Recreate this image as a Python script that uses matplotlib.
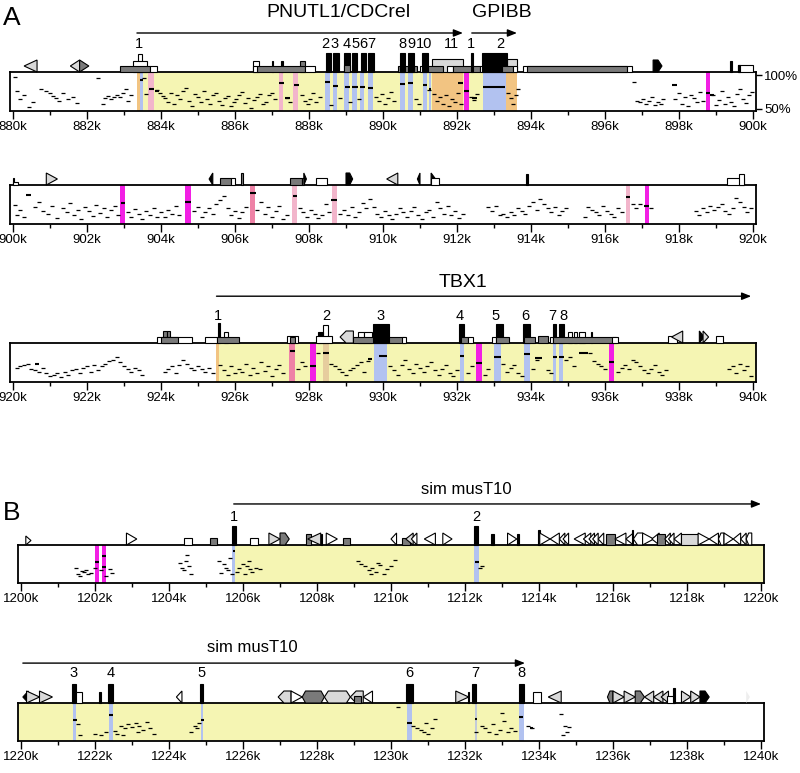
import matplotlib.pyplot as plt
import matplotlib.transforms as mtransforms
from matplotlib.patches import Polygon

plt.rcParams['font.family'] = ['Liberation Sans', 'DejaVu Sans']

# ---------------- data ----------------
# row start positions (kb)
A1_START, A2_START, A3_START = 880, 900, 920
B1_START, B2_START = 1200, 1220

# shaded strips (kind, start kb, end kb)
A1_SHADE = [('yellow', 883.35, 893.62), ('orange', 883.35, 883.42), ('blue', 883.42, 883.52),
            ('pink', 883.65, 883.8), ('pink', 887.18, 887.3), ('pink', 887.57, 887.69),
            ('blue', 888.42, 888.56), ('blue', 888.65, 888.76), ('blue', 888.95, 889.08),
            ('blue', 889.16, 889.3), ('blue', 889.38, 889.5), ('blue', 889.6, 889.73),
            ('blue', 890.46, 890.6), ('blue', 890.68, 890.82), ('blue', 891.08, 891.2),
            ('blue', 891.25, 891.3), ('orange', 891.32, 892.16), ('magenta', 892.2, 892.32),
            ('blue', 892.7, 893.33), ('orange', 893.33, 893.62), ('magenta', 898.73, 898.85)]
A2_SHADE = [('magenta', 902.9, 903.02), ('magenta', 904.65, 904.8), ('rose', 906.4, 906.55),
            ('pink', 907.55, 907.68), ('pink', 908.62, 908.75), ('pink', 916.57, 916.68),
            ('magenta', 917.08, 917.19)]
A3_SHADE = [('yellow', 925.5, 940.1), ('orange', 925.5, 925.56), ('rose', 927.46, 927.62),
            ('magenta', 928.03, 928.2), ('tan', 928.38, 928.54), ('blue', 929.76, 930.1),
            ('blue', 932.08, 932.19), ('magenta', 932.5, 932.68), ('blue', 933.0, 933.2),
            ('blue', 933.8, 933.97), ('blue', 934.6, 934.68), ('blue', 934.76, 934.86),
            ('magenta', 936.1, 936.25)]
B1_SHADE = [('yellow', 1205.75, 1220.1), ('blue', 1205.7, 1205.78), ('blue', 1212.25, 1212.37),
            ('magenta', 1202.0, 1202.1), ('magenta', 1202.18, 1202.3)]
B2_SHADE = [('yellow', 1219.9, 1233.6), ('blue', 1221.4, 1221.5), ('blue', 1222.37, 1222.48),
            ('blue', 1224.86, 1224.92), ('blue', 1230.43, 1230.56), ('grayblue', 1232.26, 1232.32),
            ('blue', 1233.45, 1233.6)]

# percent identity dots (kb, %)
A1_DOTS = [(880.05, 97), (880.12, 76), (880.18, 64), (880.3, 71), (880.42, 53), (880.55, 60),
           (880.75, 79), (880.88, 77), (881.0, 74), (881.08, 69), (881.15, 66), (881.25, 62),
           (881.35, 73), (881.5, 64), (881.62, 68), (881.72, 59), (882.3, 96), (882.42, 58),
           (882.5, 66), (882.58, 69), (882.66, 65), (882.74, 68), (882.82, 71), (882.9, 67),
           (882.98, 74), (883.06, 79), (883.12, 62), (883.2, 70),
           (883.55, 95), (883.6, 72), (883.9, 78), (883.98, 73), (884.05, 69), (884.12, 66),
           (884.2, 60), (884.28, 74), (884.36, 57), (884.44, 70), (884.52, 64), (884.6, 76),
           (884.68, 81), (884.76, 62), (884.84, 55), (884.92, 72), (885.0, 68), (885.08, 60),
           (885.16, 77), (885.24, 65), (885.32, 58), (885.4, 70), (885.48, 73), (885.56, 62),
           (885.64, 56), (885.72, 66), (885.8, 69), (885.88, 54), (885.96, 61), (886.04, 64),
           (886.12, 71), (886.2, 75), (886.28, 59), (886.36, 66), (886.44, 52), (886.52, 63),
           (886.6, 68), (886.68, 72), (886.76, 58), (886.84, 61), (886.92, 70), (887.0, 74),
           (887.08, 64), (887.4, 66), (887.48, 60), (887.8, 70), (887.88, 62), (887.96, 57),
           (888.04, 65), (888.12, 73), (888.2, 60), (888.3, 68), (888.6, 56), (888.85, 66),
           (889.1, 60), (889.35, 64), (889.82, 68), (889.9, 62), (889.98, 72), (890.06, 58),
           (890.14, 66), (890.22, 75), (890.3, 62), (890.9, 64), (890.96, 57), (891.24, 78),
           (891.38, 72), (891.46, 62), (891.54, 68), (891.62, 58), (891.7, 70), (891.78, 55),
           (891.86, 65), (891.94, 60), (892.02, 74), (892.1, 57), (892.38, 68), (892.46, 63),
           (892.54, 72), (893.38, 74), (893.46, 66), (893.52, 58), (893.6, 70), (893.66, 80),
           (896.78, 90), (896.86, 62), (896.94, 60), (897.02, 64), (897.1, 58), (897.18, 62),
           (897.26, 67), (897.34, 56), (897.42, 61), (897.5, 58), (897.58, 65), (897.9, 64),
           (898.0, 73), (898.08, 58), (898.16, 68), (898.24, 55), (898.32, 71), (898.4, 66),
           (898.48, 60), (898.56, 75), (898.64, 62), (898.92, 70), (899.0, 56), (899.08, 63),
           (899.16, 77), (899.24, 58), (899.32, 67), (899.4, 61), (899.48, 55), (899.56, 72),
           (899.64, 80), (899.72, 65), (899.8, 59), (899.88, 70), (899.96, 75)]
A2_DOTS = [(900.05, 75), (900.12, 60), (900.2, 68), (900.3, 58), (900.6, 72), (900.7, 80),
           (900.8, 66), (900.95, 62), (901.05, 74), (901.2, 56), (901.35, 70), (901.45, 64),
           (901.55, 78), (901.65, 60), (901.75, 68), (901.85, 54), (901.95, 72), (902.05, 66),
           (902.15, 59), (902.25, 75), (902.35, 63), (902.45, 70), (902.55, 57), (902.65, 67),
           (902.75, 73), (902.85, 61), (903.1, 64), (903.2, 58), (903.3, 69), (903.4, 62),
           (903.5, 55), (903.6, 66), (903.7, 60), (903.8, 71), (903.9, 57), (904.0, 65),
           (904.1, 58), (904.2, 68), (904.3, 62), (904.4, 74), (904.5, 60), (904.9, 66),
           (905.0, 72), (905.1, 58), (905.2, 65), (905.3, 70), (905.4, 62), (905.5, 76),
           (905.6, 82), (905.7, 88), (905.8, 70), (905.9, 60), (906.0, 66), (906.1, 56),
           (906.2, 64), (906.3, 72), (906.6, 68), (906.7, 80), (906.8, 62), (906.9, 72),
           (907.0, 58), (907.1, 66), (907.2, 74), (907.3, 55), (907.4, 61), (907.75, 70),
           (907.85, 64), (907.95, 58), (908.05, 67), (908.15, 62), (908.25, 56), (908.35, 60),
           (908.45, 76), (908.55, 64), (908.85, 62), (908.95, 68), (909.05, 60), (909.15, 72),
           (909.25, 58), (909.35, 64), (909.45, 78), (909.55, 70), (909.65, 84), (909.75, 72),
           (909.85, 62), (909.95, 58), (910.05, 66), (910.15, 60), (910.25, 54), (910.35, 62),
           (910.45, 70), (910.55, 64), (910.65, 58), (910.75, 66), (910.85, 72), (910.95, 60),
           (911.05, 55), (911.15, 64), (911.25, 68), (911.35, 58), (911.45, 80), (911.55, 70),
           (911.65, 62), (911.75, 74), (911.85, 60), (911.95, 66), (912.05, 56), (912.15, 62),
           (912.85, 72), (912.95, 66), (913.05, 74), (913.15, 60), (913.25, 62), (913.35, 58),
           (913.45, 64), (913.55, 60), (913.65, 70), (913.75, 66), (913.85, 62), (913.95, 74),
           (914.05, 80), (914.15, 68), (914.25, 84), (914.35, 76), (914.45, 70), (914.55, 64),
           (914.65, 72), (914.75, 60), (914.85, 66), (914.95, 70), (915.45, 57), (915.55, 72),
           (915.65, 68), (915.75, 64), (915.85, 60), (915.95, 74), (916.05, 66), (916.15, 62),
           (916.25, 58), (916.35, 70), (916.45, 64), (916.75, 76), (916.85, 70), (916.95, 76),
           (917.25, 71), (918.45, 66), (918.55, 60), (918.65, 70), (918.75, 64), (918.85, 74),
           (918.95, 68), (919.05, 72), (919.15, 76), (919.25, 66), (919.35, 62), (919.45, 70),
           (919.55, 86), (919.65, 80), (919.75, 72), (919.85, 64), (919.95, 70)]
A3_DOTS = [(920.1, 68), (920.2, 70), (920.3, 72), (920.4, 74), (920.5, 66), (920.6, 64),
           (920.7, 62), (920.8, 68), (920.9, 60), (921.0, 56), (921.1, 58), (921.2, 60),
           (921.3, 55), (921.4, 62), (921.5, 58), (921.6, 64), (921.7, 66), (921.8, 60),
           (921.9, 68), (922.0, 70), (922.1, 62), (922.2, 72), (922.3, 65), (922.4, 70),
           (922.5, 74), (922.6, 78), (922.7, 80), (922.8, 84), (922.9, 76), (923.0, 70),
           (923.1, 66), (923.2, 62), (923.3, 68), (923.4, 64), (923.5, 58), (924.1, 62),
           (924.2, 66), (924.3, 70), (924.4, 60), (924.5, 72), (924.6, 80), (924.7, 74),
           (924.8, 68), (924.9, 64), (925.0, 70), (925.1, 66), (925.2, 62), (925.3, 68),
           (925.4, 60), (925.6, 72), (925.7, 64), (925.8, 58), (925.9, 70), (926.0, 60),
           (926.1, 66), (926.2, 62), (926.3, 74), (926.4, 58), (926.5, 67), (926.6, 60),
           (926.7, 76), (926.8, 63), (926.9, 70), (927.0, 56), (927.1, 66), (927.2, 72),
           (927.3, 61), (927.7, 66), (927.8, 76), (927.9, 70), (928.25, 90), (928.6, 74),
           (928.7, 70), (928.8, 66), (928.9, 62), (929.0, 58), (929.1, 64), (929.2, 68),
           (929.3, 72), (929.4, 76), (929.5, 62), (929.6, 78), (930.2, 70), (930.3, 64),
           (930.4, 58), (930.5, 72), (930.6, 80), (930.7, 66), (930.8, 60), (930.9, 74),
           (931.0, 68), (931.1, 62), (931.2, 70), (931.3, 76), (931.4, 64), (931.5, 58),
           (931.6, 66), (931.7, 72), (931.8, 60), (931.9, 56), (932.0, 64), (932.3, 60),
           (932.4, 70), (932.75, 58), (932.85, 66), (933.25, 74), (933.35, 62), (933.45, 68),
           (933.55, 72), (933.65, 60), (933.75, 56), (934.05, 66), (934.15, 80), (934.45, 64),
           (934.55, 60), (934.95, 80), (935.05, 84), (935.15, 70), (935.6, 90), (935.7, 78),
           (935.8, 74), (935.9, 70), (936.0, 66), (936.35, 62), (936.45, 68), (936.55, 72),
           (936.65, 66), (936.75, 80), (936.85, 76), (936.95, 70), (937.05, 64), (937.15, 60),
           (937.25, 66), (937.35, 72), (937.45, 62), (937.55, 58), (937.65, 64), (939.35, 66),
           (939.45, 70), (939.55, 60), (939.65, 74), (939.75, 64), (939.85, 70), (939.95, 56)]
B1_DOTS = [(1201.5, 70), (1201.55, 60), (1201.6, 58), (1201.65, 65), (1201.7, 64), (1201.75, 66),
           (1201.8, 60), (1201.9, 62), (1202.0, 70), (1202.15, 66), (1202.3, 58), (1202.4, 68),
           (1202.45, 62), (1204.3, 78), (1204.35, 70), (1204.4, 66), (1204.45, 80), (1204.5, 90),
           (1204.55, 72), (1204.6, 60), (1205.35, 80), (1205.4, 62), (1205.5, 75), (1205.55, 70),
           (1205.6, 66), (1205.65, 85), (1205.7, 60), (1205.85, 64), (1205.9, 70), (1206.0, 75),
           (1206.05, 60), (1206.1, 72), (1206.15, 80), (1206.2, 68), (1206.25, 64), (1206.35, 70),
           (1206.45, 68), (1209.1, 80), (1209.2, 76), (1209.3, 72), (1209.4, 66), (1209.45, 60),
           (1209.5, 70), (1209.6, 64), (1209.65, 78), (1209.7, 74), (1209.8, 60), (1209.9, 68),
           (1210.0, 72), (1210.1, 82), (1212.4, 70), (1212.45, 72)]
B2_DOTS = [(1221.55, 72), (1221.6, 56), (1222.0, 58), (1222.15, 56), (1222.3, 60), (1222.55, 62),
           (1222.6, 58), (1222.7, 70), (1222.75, 56), (1222.8, 66), (1222.9, 72), (1223.0, 68),
           (1223.1, 74), (1223.15, 60), (1223.2, 70), (1223.3, 64), (1223.4, 76), (1223.5, 66),
           (1223.6, 58), (1224.6, 60), (1224.7, 70), (1224.75, 66), (1224.8, 74), (1230.2, 98),
           (1230.6, 70), (1230.7, 66), (1230.8, 64), (1230.9, 60), (1230.95, 74), (1231.0, 58),
           (1231.1, 66), (1231.2, 80), (1232.3, 60), (1232.45, 70), (1232.55, 66), (1232.65, 60),
           (1232.75, 72), (1232.85, 58), (1232.95, 64), (1233.0, 90), (1233.05, 78), (1233.15, 60),
           (1233.25, 66), (1233.35, 62), (1233.7, 70), (1233.8, 66), (1234.6, 88), (1234.65, 56),
           (1234.7, 70), (1234.75, 60), (1234.8, 68)]

# longer identity segments (start kb, end kb, %)
A1_DASH = [(883.42, 883.52, 92), (883.68, 883.82, 79), (883.85, 883.95, 77), (887.2, 887.32, 89),
           (887.35, 887.5, 66), (887.6, 887.72, 86), (888.42, 888.56, 90), (888.66, 888.78, 84),
           (888.96, 889.1, 82), (889.16, 889.32, 83), (889.38, 889.52, 83), (889.6, 889.74, 81),
           (890.46, 890.6, 87), (890.68, 890.82, 89), (891.08, 891.2, 85), (891.24, 891.3, 80),
           (892.02, 892.16, 88), (892.2, 892.32, 77), (892.4, 892.55, 66), (892.7, 893.3, 82),
           (897.8, 897.95, 85), (898.72, 898.85, 74), (898.85, 898.95, 70)]
A2_DASH = [(900.35, 900.48, 90), (902.93, 903.02, 78), (904.66, 904.8, 79), (906.4, 906.56, 93),
           (907.56, 907.68, 88), (908.6, 908.75, 82), (916.56, 916.68, 87), (917.06, 917.2, 73)]
A3_DASH = [(920.6, 920.7, 73), (927.5, 927.62, 93), (928.04, 928.2, 71), (928.38, 928.55, 90),
           (929.6, 929.7, 81), (929.88, 930.12, 85), (932.08, 932.2, 85), (932.52, 932.68, 75),
           (933.0, 933.2, 84), (933.8, 933.98, 88), (934.1, 934.3, 83), (934.6, 934.7, 84),
           (934.76, 934.88, 84), (935.3, 935.55, 90), (936.12, 936.24, 76)]
B1_DASH = [(1202.0, 1202.1, 79), (1202.18, 1202.3, 88), (1202.18, 1202.3, 71),
           (1205.72, 1205.78, 95), (1212.26, 1212.37, 79)]
B2_DASH = [(1221.4, 1221.52, 79), (1222.37, 1222.48, 86), (1224.86, 1224.94, 79),
           (1230.43, 1230.58, 74), (1232.26, 1232.32, 80), (1233.45, 1233.58, 84), (1233.75, 1233.85, 66)]

# gene / repeat annotation (icon kind, start kb, end kb)
A1_FEAT = [('tri_l', 880.3, 880.65), ('tri_l', 881.55, 881.8), ('tri_rd', 881.8, 882.05),
           ('utr_t', 883.38, 883.48), ('utr', 883.25, 883.62), ('dark', 882.9, 883.7), ('white_b', 883.7, 883.9),
           ('utr', 886.5, 886.65), ('tick', 887.0, 887.04), ('tick', 887.25, 887.29), ('dark_h', 887.75, 887.9),
           ('dark', 886.6, 887.9), ('white_b', 886.5, 886.6), ('white_b', 887.9, 888.15),
           ('exon', 888.45, 888.6), ('exon', 888.65, 888.8), ('exon', 888.95, 889.1),
           ('exon', 889.15, 889.3), ('exon', 889.4, 889.55), ('exon', 889.6, 889.75), ('dark_b', 888.95, 889.1),
           ('dark', 890.4, 890.92), ('exon', 890.46, 890.6), ('exon', 890.68, 890.84),
           ('white_b', 891.0, 891.19), ('exon', 891.05, 891.22), ('lite', 891.32, 892.16),
           ('dark', 891.22, 891.62), ('white_b', 891.73, 891.89), ('dark', 891.89, 892.62),
           ('exon', 892.38, 892.43), ('white_b', 892.62, 893.22), ('lite', 893.35, 893.62),
           ('exon', 892.68, 893.35), ('dark', 893.22, 893.51), ('white_b', 893.51, 893.62),
           ('white_b', 893.78, 896.73), ('dark', 893.9, 896.6), ('pent_rk', 897.3, 897.54),
           ('tick', 899.38, 899.44), ('utr_s', 899.6, 900.0), ('tick_s', 899.6, 899.64)]
A2_FEAT = [('tick_s', 900.0, 900.04), ('white_s', 900.0, 900.14), ('tri_r', 900.9, 901.2),
           ('tri_lk', 905.3, 905.4), ('dark_b', 905.6, 905.9), ('utr_s', 905.9, 906.0),
           ('tick_g', 906.15, 906.22), ('dark_b', 907.5, 907.8), ('utr_s', 907.8, 907.86),
           ('tri_rk', 907.86, 907.93), ('utr_s', 908.2, 908.5), ('pent_rk', 909.0, 909.18),
           ('tri_l', 910.1, 910.4), ('tri_lk', 910.93, 911.0), ('tri_rk', 911.3, 911.42),
           ('utr_s', 911.3, 911.5), ('tick', 913.87, 913.93), ('utr_s', 919.3, 919.75),
           ('utr', 919.62, 919.75)]
A3_FEAT = [('dark_t', 924.05, 924.15), ('dark_t', 924.15, 924.25), ('white_b', 923.9, 924.84),
           ('dark', 924.0, 924.45), ('utr', 925.7, 925.8), ('exon_t', 925.53, 925.6),
           ('white_b', 925.19, 925.51), ('dark', 925.51, 926.1), ('utr_s', 927.4, 927.7),
           ('dark_s', 927.48, 927.62), ('utr_t', 928.38, 928.52), ('exon_s', 928.25, 928.38),
           ('utr_s', 928.2, 928.62), ('pent_l', 928.84, 929.2), ('utr', 929.33, 929.5),
           ('utr', 929.5, 929.7), ('dark', 929.2, 930.6), ('exon', 929.72, 930.15),
           ('white_b', 930.5, 930.62), ('exon', 932.05, 932.2), ('dark', 932.1, 932.3),
           ('white_b', 932.3, 932.42), ('exon', 933.05, 933.25), ('white_b', 932.95, 933.05),
           ('dark', 933.05, 933.4), ('exon', 933.78, 933.97), ('dark', 933.8, 934.1),
           ('dark_b', 934.2, 934.45), ('white_b', 934.5, 934.6), ('utr', 935.0, 935.1),
           ('utr', 935.15, 935.25), ('utr', 935.3, 935.45), ('tick', 935.62, 935.66),
           ('exon', 934.6, 934.68), ('exon', 934.75, 934.9), ('dark', 934.6, 936.3),
           ('white_b', 936.2, 936.35), ('utr_s', 937.7, 937.95), ('tri_l', 937.8, 938.1),
           ('tri_rk', 938.55, 938.68), ('tri_r', 938.65, 938.8), ('utr_s', 939.0, 939.2)]
B1_FEAT = [('tri_rw_s', 1200.13, 1200.27), ('tri_rw', 1202.85, 1203.13), ('utr_s', 1204.4, 1204.62),
           ('dark_b', 1205.1, 1205.3), ('exon', 1205.7, 1205.8), ('utr_s', 1206.2, 1206.4),
           ('tri_r', 1206.7, 1207.0), ('pent_rd', 1207.0, 1207.25), ('dark_h', 1207.7, 1207.85),
           ('tri_l', 1207.75, 1208.1), ('tick', 1208.1, 1208.13), ('tri_rw', 1208.25, 1208.55),
           ('dark_b', 1208.7, 1208.9), ('tri_lw', 1210.0, 1210.15), ('dark_b', 1210.3, 1210.5),
           ('tri_l', 1210.4, 1210.6), ('tri_lw', 1210.55, 1210.7), ('tri_lw', 1210.9, 1211.2),
           ('tri_rw', 1211.4, 1211.65), ('exon', 1212.25, 1212.36), ('exon_s', 1212.7, 1212.78),
           ('tri_rw', 1213.15, 1213.4), ('tick', 1213.4, 1213.45), ('tick_t', 1213.98, 1214.02),
           ('tri_rw', 1214.02, 1214.3), ('tri_lw', 1214.3, 1214.55), ('tri_lw', 1214.55, 1214.7),
           ('tri_lw', 1214.65, 1214.8), ('tri_lw', 1214.95, 1215.25), ('tri_lw', 1215.2, 1215.4),
           ('tri_lw', 1215.35, 1215.5), ('tri_lw', 1215.45, 1215.6), ('tri_lw', 1215.6, 1215.75),
           ('dark_h', 1215.8, 1216.05), ('tri_lw', 1216.05, 1216.35), ('tri_lw', 1216.35, 1216.55),
           ('pent_lw', 1216.55, 1216.8), ('tick_t', 1216.52, 1216.55), ('tri_rw', 1216.8, 1217.1),
           ('tri_lw', 1217.05, 1217.25), ('dark_h', 1217.2, 1217.4), ('tri_lw', 1217.4, 1217.55),
           ('tri_lw', 1217.5, 1217.65), ('tri_lw', 1217.65, 1217.85), ('lite_b', 1217.85, 1218.3),
           ('tri_rw', 1218.3, 1218.6), ('tri_lw', 1218.6, 1218.85), ('pent_lw', 1218.85, 1219.0),
           ('tri_rw', 1219.0, 1219.25), ('tri_lw', 1219.25, 1219.45), ('tri_lw', 1219.45, 1219.6),
           ('pent_lw', 1219.6, 1219.75)]
B2_FEAT = [('tri_lk', 1220.05, 1220.2), ('tri_r', 1220.15, 1220.5), ('tri_r', 1220.5, 1220.85),
           ('exon', 1221.38, 1221.5), ('utr', 1221.5, 1221.65), ('exon_s', 1222.1, 1222.15),
           ('exon', 1222.35, 1222.5), ('tri_lw', 1224.2, 1224.35), ('exon', 1224.85, 1224.93),
           ('pent_l', 1226.95, 1227.3), ('tri_rw', 1227.3, 1227.6), ('hex_d', 1227.6, 1228.2),
           ('hex_l', 1228.2, 1228.9), ('pent_l', 1228.9, 1229.25), ('dark_b', 1229.0, 1229.2),
           ('tri_lw', 1229.25, 1229.5), ('exon', 1230.4, 1230.6), ('tri_r', 1231.75, 1232.1),
           ('tick', 1232.08, 1232.12), ('exon', 1232.2, 1232.3), ('exon', 1233.45, 1233.6),
           ('utr', 1233.85, 1234.05), ('tri_l', 1234.25, 1234.6), ('pent_ld', 1235.85, 1236.0),
           ('tri_r', 1236.0, 1236.3), ('tri_r', 1236.3, 1236.6), ('pent_rd', 1236.6, 1236.85),
           ('tri_l', 1236.85, 1237.1), ('tri_l', 1237.1, 1237.35), ('tri_l', 1237.3, 1237.5),
           ('utr_s', 1237.45, 1237.65), ('tick_t', 1237.62, 1237.67), ('tri_r', 1237.85, 1238.1),
           ('tri_r', 1238.1, 1238.35), ('pent_rk', 1238.35, 1238.6), ('tri_rf', 1239.6, 1239.7)]

# gene names (centre kb, text), arrows (start, end), exon numbers (kb, label)
A1_GENES = [(888.8, 'PNUTL1/CDCrel'), (893.2, 'GPIBB')]
A1_ARROWS = [(883.35, 892.16), (892.4, 893.62)]
A1_EXONS = [(883.4, '1'), (888.45, '2'), (888.7, '3'), (889.03, '4'), (889.25, '5'), (889.47, '6'),
            (889.69, '7'), (890.52, '8'), (890.77, '9'), (891.1, '10'), (891.86, '11'),
            (892.38, '1'), (893.16, '2')]
A3_GENES = [(932.16, 'TBX1')]
A3_ARROWS = [(925.5, 939.95)]
A3_EXONS = [(925.55, '1'), (928.46, '2'), (929.92, '3'), (932.08, '4'), (933.05, '5'),
            (933.85, '6'), (934.58, '7'), (934.88, '8')]
B1_GENES = [(1212.04, 'sim musT10')]
B1_ARROWS = [(1205.75, 1220.0)]
B1_EXONS = [(1205.75, '1'), (1212.3, '2')]
B2_GENES = [(1226.26, 'sim musT10')]
B2_ARROWS = [(1220.05, 1233.62)]
B2_EXONS = [(1221.43, '3'), (1222.42, '4'), (1224.88, '5'), (1230.5, '6'), (1232.27, '7'), (1233.52, '8')]

# ---------------- styles ----------------
SHADE_COLORS = {'yellow': '#f5f5b3', 'blue': '#b2c2f0', 'orange': '#f2c482', 'pink': '#f2b5cb',
                'rose': '#ee82a6', 'magenta': '#f21fe4', 'tan': '#e6cd9e', 'grayblue': '#c3cbd8'}
FILL = {'w': 'white', 'l': '#d9d9d9', 'd': '#7a7a7a', 'k': 'black', 'f': '#eeeeee'}
STYLE = {
    'exon': ('rect', 'k', 19), 'exon_t': ('rect', 'k', 20), 'exon_s': ('rect', 'k', 11),
    'utr': ('rect', 'w', 11), 'utr_t': ('rect', 'w', 18), 'utr_s': ('rect', 'w', 7),
    'white_s': ('rect', 'w', 3), 'white_b': ('rect', 'w', 6),
    'lite': ('rect', 'l', 13), 'lite_b': ('rect', 'l', 11),
    'dark': ('rect', 'd', 6), 'dark_b': ('rect', 'd', 7), 'dark_s': ('rect', 'd', 6),
    'dark_h': ('rect', 'd', 11), 'dark_t': ('rect', 'd', 12),
    'tick': ('rect', 'k', 11), 'tick_s': ('rect', 'k', 7), 'tick_t': ('rect', 'k', 15),
    'tick_g': ('rect', 'd', 12),
    'tri_r': ('tri_r', 'l', 12), 'tri_l': ('tri_l', 'l', 12),
    'tri_rw': ('tri_r', 'w', 12), 'tri_lw': ('tri_l', 'w', 12), 'tri_rw_s': ('tri_r', 'w', 9),
    'tri_rd': ('tri_r', 'd', 12), 'tri_rk': ('tri_r', 'k', 12), 'tri_lk': ('tri_l', 'k', 12),
    'tri_rf': ('tri_r', 'f', 12),
    'pent_l': ('pent_l', 'l', 12), 'pent_lw': ('pent_l', 'w', 12), 'pent_ld': ('pent_l', 'd', 12),
    'pent_rd': ('pent_r', 'd', 12), 'pent_rk': ('pent_r', 'k', 12),
    'hex_d': ('hex', 'd', 12), 'hex_l': ('hex', 'l', 12),
}

W, H = 800, 773


def make_axes(fig, left, top, bottom, start):
    ax = fig.add_axes([left / W, 1 - bottom / H, 746 / W, (bottom - top) / H])
    ax.set_xlim(start - 0.081, start + 20.081)
    ax.set_ylim(47, 104.5)
    ax.set_xticks(range(start, start + 21, 2))
    ax.set_xticklabels(['{}k'.format(v) for v in range(start, start + 21, 2)])
    ax.set_xticks(range(start + 1, start + 20, 2), minor=True)
    ax.tick_params(axis='x', which='major', length=5.5, width=1, labelsize=9.5, pad=2)
    ax.tick_params(axis='x', which='minor', length=3, width=1)
    ax.set_yticks([])
    for s in ax.spines.values():
        s.set_linewidth(1.3)
    return ax


def draw_row(ax, shades, dots, dashes, feats):
    for kind, x0, x1 in shades:
        ax.axvspan(x0, x1, color=SHADE_COLORS[kind], lw=0, zorder=0)
    ax.plot([d[0] for d in dots], [d[1] for d in dots], ls='none', marker='_',
            ms=2.2, mew=0.9, color='k', zorder=2)
    for x0, x1, y in dashes:
        ax.hlines(y, x0, x1, color='k', lw=1.5, zorder=2)
    hpx = ax.get_position().height * H
    tr = mtransforms.blended_transform_factory(ax.transData, ax.transAxes)
    for kind, x0, x1 in feats:
        shape, fill, h = STYLE[kind]
        hh = h / hpx
        w = x1 - x0
        if shape == 'rect':
            pts = [(x0, 1), (x0, 1 + hh), (x1, 1 + hh), (x1, 1)]
        elif shape == 'tri_r':
            pts = [(x0, 1), (x0, 1 + hh), (x1, 1 + hh / 2)]
        elif shape == 'tri_l':
            pts = [(x1, 1), (x1, 1 + hh), (x0, 1 + hh / 2)]
        elif shape == 'pent_r':
            pts = [(x0, 1), (x0, 1 + hh), (x0 + 0.55 * w, 1 + hh), (x1, 1 + hh / 2), (x0 + 0.55 * w, 1)]
        elif shape == 'pent_l':
            pts = [(x1, 1), (x1, 1 + hh), (x1 - 0.55 * w, 1 + hh), (x0, 1 + hh / 2), (x1 - 0.55 * w, 1)]
        else:
            pts = [(x0, 1 + hh / 2), (x0 + 0.15 * w, 1 + hh), (x1 - 0.15 * w, 1 + hh),
                   (x1, 1 + hh / 2), (x1 - 0.15 * w, 1), (x0 + 0.15 * w, 1)]
        ec = 'none' if fill == 'f' else 'k'
        ax.add_patch(Polygon(pts, closed=True, transform=tr, fc=FILL[fill], ec=ec,
                             lw=0.8, clip_on=False, zorder=3))


def draw_labels(ax, genes, arrows, exons, y_gene, y_arrow, y_num, gsize):
    tr = mtransforms.blended_transform_factory(ax.transData, ax.transAxes)
    for x, t in genes:
        ax.text(x, y_gene, t, transform=tr, ha='center', va='center', fontsize=gsize)
    for x0, x1 in arrows:
        ax.annotate('', xy=(x1, y_arrow), xytext=(x0, y_arrow), xycoords=tr, textcoords=tr,
                    arrowprops=dict(arrowstyle='-|>,head_length=0.55,head_width=0.22',
                                    color='k', lw=1, shrinkA=0, shrinkB=0),
                    annotation_clip=False)
    for x, t in exons:
        ax.text(x, y_num, t, transform=tr, ha='center', va='center', fontsize=10.5)


fig = plt.figure(figsize=(8, 7.73), dpi=100)

ax1 = make_axes(fig, 10, 72, 111, A1_START)
draw_row(ax1, A1_SHADE, A1_DOTS, A1_DASH, A1_FEAT)
draw_labels(ax1, A1_GENES, A1_ARROWS, A1_EXONS, 2.52, 2.0, 1.72, 14)
ax1.yaxis.tick_right()
ax1.set_yticks([50, 100])
ax1.set_yticklabels(['50%', '100%'])
ax1.tick_params(axis='y', length=4, width=1, labelsize=9.5, pad=2)

ax2 = make_axes(fig, 10, 185, 224, A2_START)
draw_row(ax2, A2_SHADE, A2_DOTS, A2_DASH, A2_FEAT)

ax3 = make_axes(fig, 10, 343, 382, A3_START)
draw_row(ax3, A3_SHADE, A3_DOTS, A3_DASH, A3_FEAT)
draw_labels(ax3, A3_GENES, A3_ARROWS, A3_EXONS, 2.54, 2.2, 1.69, 14)

ax4 = make_axes(fig, 18, 545, 583, B1_START)
draw_row(ax4, B1_SHADE, B1_DOTS, B1_DASH, B1_FEAT)
draw_labels(ax4, B1_GENES, B1_ARROWS, B1_EXONS, 2.45, 2.08, 1.74, 12)

ax5 = make_axes(fig, 18, 703, 741, B2_START)
draw_row(ax5, B2_SHADE, B2_DOTS, B2_DASH, B2_FEAT)
draw_labels(ax5, B2_GENES, B2_ARROWS, B2_EXONS, 2.45, 2.05, 1.79, 12)

fig.text(3 / W, 1 - 25 / H, 'A', fontsize=19, va='baseline', ha='left')
fig.text(3 / W, 1 - 520 / H, 'B', fontsize=19, va='baseline', ha='left')

fig.savefig('out.png', dpi=100)
